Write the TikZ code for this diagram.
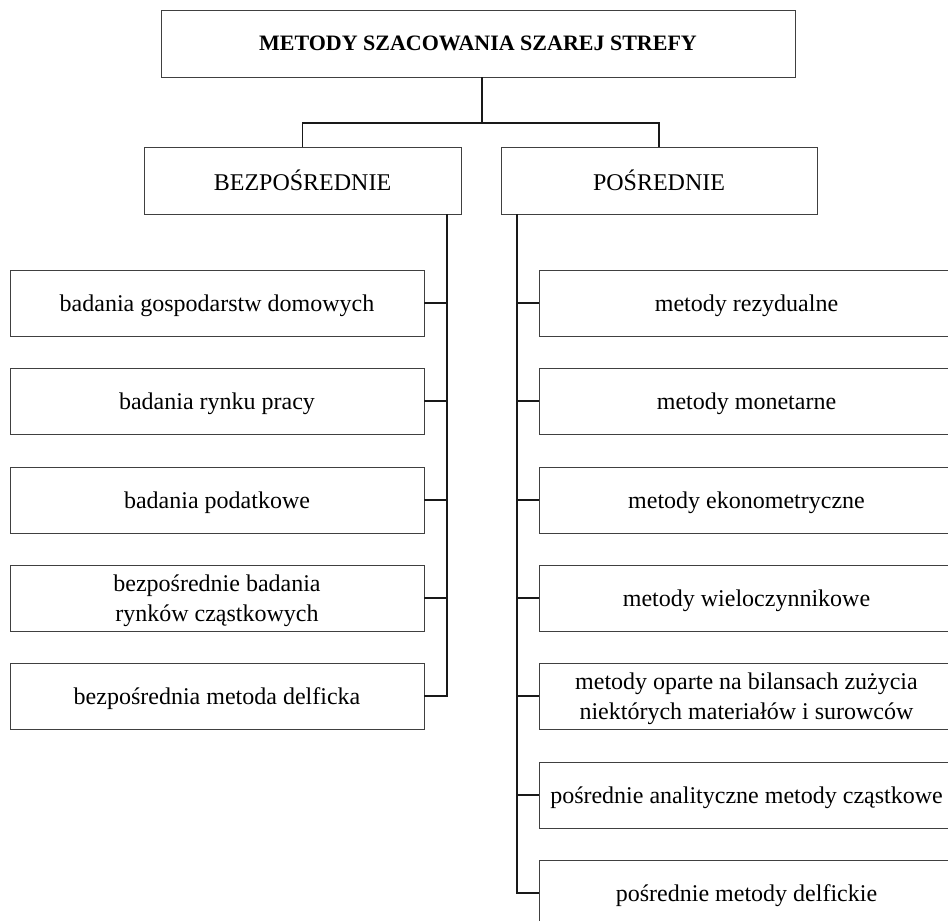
\documentclass[tikz,border=0pt]{standalone}
\usepackage{fontspec}
\setmainfont{Liberation Serif}
\begin{document}
\begin{tikzpicture}[x=1pt,y=-1pt,
  box/.style={draw=black!75,line width=1pt,rectangle,inner sep=0pt,outer sep=0pt,
    minimum height=66pt,align=center,text depth=0pt,font=\fontsize{24}{30}\selectfont},
  lbox/.style={box,minimum width=414pt},
  rbox/.style={box,minimum width=415pt},
  conn/.style={draw=black!90,line width=1.7pt},
]
\useasboundingbox (0,0) rectangle (948,921);
\clip (0,0) rectangle (948,921);
\fill[white] (0,0) rectangle (948,921);

\node[box,minimum width=634pt,minimum height=67pt,font=\bfseries\fontsize{22}{26}\selectfont] (top) at (478,43.5) {METODY SZACOWANIA SZAREJ STREFY};

\node[box,minimum width=317pt,minimum height=67pt] (bez) at (302.5,180.5) {BEZPOŚREDNIE};
\node[box,minimum width=316pt,minimum height=67pt] (pos) at (659,180.5) {POŚREDNIE};

\node[lbox] (l1) at (217,303) {badania gospodarstw domowych};
\node[lbox] (l2) at (217,401) {badania rynku pracy};
\node[lbox] (l3) at (217,500) {badania podatkowe};
\node[lbox] (l4) at (217,598) {bezpośrednie badania\\rynków cząstkowych};
\node[lbox] (l5) at (217,696) {bezpośrednia metoda delficka};

\node[rbox] (r1) at (746.5,303) {metody rezydualne};
\node[rbox] (r2) at (746.5,401) {metody monetarne};
\node[rbox] (r3) at (746.5,500) {metody ekonometryczne};
\node[rbox] (r4) at (746.5,598) {metody wieloczynnikowe};
\node[rbox] (r5) at (746.5,696) {metody oparte na bilansach zużycia\\niektórych materiałów i surowców};
\node[rbox] (r6) at (746.5,795) {pośrednie analityczne metody cząstkowe};
\node[rbox] (r7) at (746.5,893) {pośrednie metody delfickie};

\coordinate (j) at (482,123);
\coordinate (lx) at (447,0);
\coordinate (rx) at (517,0);

\draw[conn] (top.south -| j) -- (j);
\draw[conn] (bez.north) |- (j) -| (pos.north);

\draw[conn] (bez.south -| lx) |- (l5.east);
\foreach \n in {l1,l2,l3,l4} \draw[conn] (\n.east) -- (\n.east -| lx);

\draw[conn] (pos.south -| rx) |- (r7.west);
\foreach \n in {r1,r2,r3,r4,r5,r6} \draw[conn] (\n.west) -- (\n.west -| rx);
\end{tikzpicture}
\end{document}
